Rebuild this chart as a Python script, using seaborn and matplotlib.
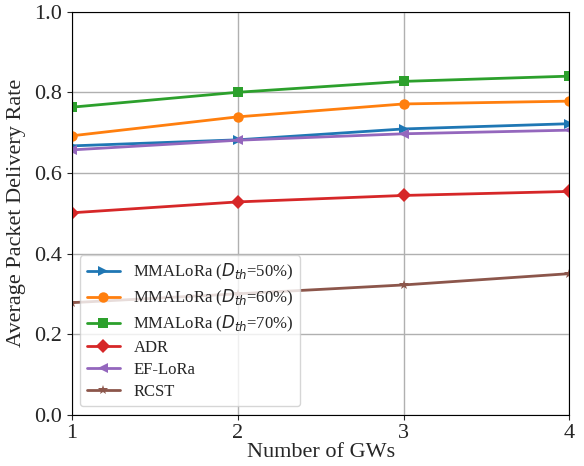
import matplotlib
matplotlib.use("Agg")
import matplotlib.pyplot as plt
import seaborn as sns
import pandas as pd

sns.set_style("ticks")
plt.rcParams['font.family'] = ['Liberation Serif', 'DejaVu Sans']
plt.rcParams['mathtext.fontset'] = 'dejavusans'

gws = [1, 2, 3, 4]
mma50 = [0.667, 0.682, 0.709, 0.722]
mma60 = [0.692, 0.739, 0.771, 0.778]
mma70 = [0.763, 0.800, 0.827, 0.840]
adr = [0.501, 0.528, 0.544, 0.554]
eflora = [0.657, 0.681, 0.697, 0.706]
rcst = [0.278, 0.300, 0.322, 0.350]

series = {
    r'MMALoRa ($D_{th}$=50%)': mma50,
    r'MMALoRa ($D_{th}$=60%)': mma60,
    r'MMALoRa ($D_{th}$=70%)': mma70,
    'ADR': adr,
    'EF-LoRa': eflora,
    'RCST': rcst,
}
markers = ['>', 'o', 's', 'D', '<', '*']
colors = sns.color_palette('tab10', 6)

fig, ax = plt.subplots(figsize=(5.84, 4.66), dpi=100)
for (name, vals), m, c in zip(series.items(), markers, colors):
    df = pd.DataFrame({'gw': gws, 'pdr': vals})
    sns.lineplot(data=df, x='gw', y='pdr', ax=ax, marker=m, color=c,
                 markersize=7.5, linewidth=2, markeredgewidth=0, label=name)

ax.set_xlim(1, 4)
ax.set_ylim(0, 1.0)
ax.set_xticks([1, 2, 3, 4])
ax.set_yticks([0.0, 0.2, 0.4, 0.6, 0.8, 1.0])
ax.tick_params(labelsize=16)
ax.grid(True, color='#b0b0b0', linewidth=1)
ax.set_xlabel('Number of GWs', fontsize=16, labelpad=0)
ax.set_ylabel('Average Packet Delivery Rate', fontsize=16, labelpad=6)
ax.legend(loc='lower left', fontsize=12, handlelength=2.0, labelspacing=0.35)
for s in ax.spines.values():
    s.set_color('black')

fig.subplots_adjust(left=0.123, right=0.975, bottom=0.11, top=0.975)
fig.savefig('out.png', dpi=100)
